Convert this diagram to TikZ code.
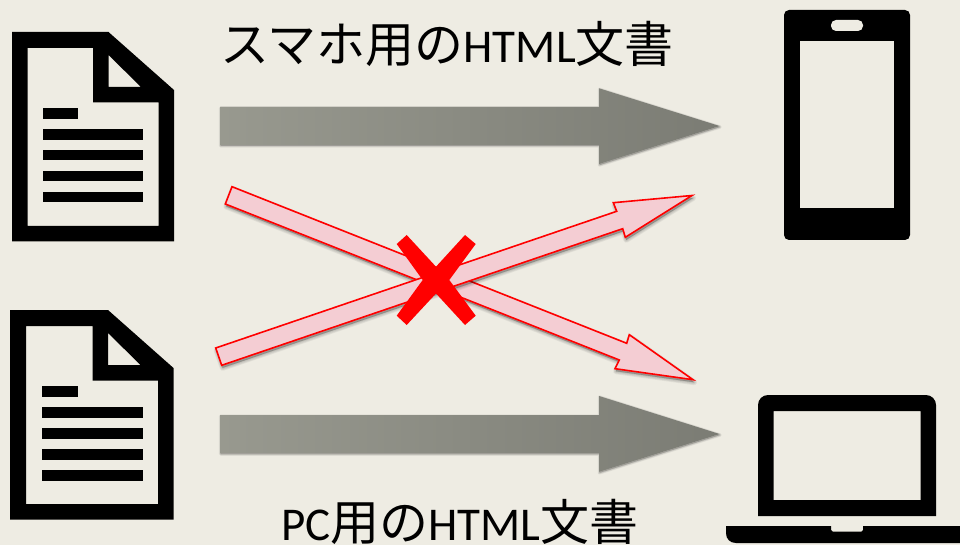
\documentclass[tikz,border=0pt]{standalone}
\usepackage{fontspec}
\setmainfont{Carlito}
\newfontfamily\cjk{Noto Sans CJK JP}
\definecolor{bgc}{HTML}{EEECE3}
\definecolor{pinkf}{HTML}{F4CDD3}
\definecolor{grayl}{HTML}{98998F}
\definecolor{grayr}{HTML}{7B7C74}
\tikzset{
  icon/.style={fill=black,draw=none,even odd rule},
  bigarrow/.style={left color=grayl,right color=grayr,draw=none},
  redarrow/.style={fill=pinkf,draw=red,line width=1.6pt,line join=miter},
  softedge/.style={fill=black,draw=black,line join=round,opacity=0.05,line width=#1},
  crossmark/.style={fill=red,draw=none},
  caption/.style={font=\fontsize{47}{47}\selectfont,inner sep=0pt,text=black,anchor=base}
}
\newcommand{\softshadow}[4]{%
  \foreach \wd in {#3}{\path[softedge=\wd pt,shift={(#1,#2)}] #4;}}
\newcommand{\cj}[1]{{\fontsize{49}{49}\selectfont\cjk #1}}
\newcommand{\docicon}[5]{%
  \begin{scope}[shift={(#1,#2)}]
    \path[icon] (#3,32) -- (108.5,32) -- (174,90) -- (174,241.5) -- (#3,241.5) -- cycle
      (#4,48) -- (93,48) -- (93,102.5) -- (158.5,102.5) -- (158.5,226) -- (#4,226) -- cycle
      (108.5,55) -- (141,87) -- (108.5,87) -- cycle;
    \fill[black] (#5,108) rectangle (78,119);
    \fill[black] (#5,129) rectangle (143,140);
    \fill[black] (#5,150) rectangle (143,160.5);
    \fill[black] (#5,171) rectangle (143,181.5);
    \fill[black] (#5,192) rectangle (143,202.5);
  \end{scope}}
\begin{document}
\begin{tikzpicture}[x=1pt,y=-1pt]
\useasboundingbox (0,0) rectangle (960,545);
\clip (0,0) rectangle (960,545);
\fill[bgc] (0,0) rectangle (960,545);
\docicon{0}{0}{12}{27.5}{43}
\docicon{-0.5}{278}{10.5}{26.5}{42.5}
% phone
\path[icon,rounded corners=5pt] (784,10) rectangle (910,240);
\fill[bgc] (800,41) rectangle (894,208.5);
\fill[bgc,rounded corners=5pt] (831,20) rectangle (863,31);
% laptop
\path[icon] [rounded corners=10pt] (758,516) [sharp corners] -- (758,450) [rounded corners=10pt] -- (758,395) -- (936,395) -- (936,450) [sharp corners] -- (936,516) -- cycle
  (773.5,411) rectangle (920.5,500);
\path[icon] (726,526) -- (831,526) -- (831,530) -- (832.5,531.5) -- (861.5,531.5) -- (863,530) -- (863,526) -- (960,526) -- (960,543) -- (736,543) .. controls (730,543) and (726,539) .. (726,533) -- cycle;
% grey arrows
\softshadow{0.5}{1}{3.5,2.5,1.5,0.5}{(220,107) -- (599,107) -- (599,88.3) -- (719.5,126) -- (599,164) -- (599,145) -- (220,145) -- cycle}
\path[bigarrow] (220,107) -- (599,107) -- (599,88.3) -- (719.5,126) -- (599,164) -- (599,145) -- (220,145) -- cycle;
\softshadow{0.5}{1}{3.5,2.5,1.5,0.5}{(220,415) -- (599,415) -- (599,396) -- (719.5,434) -- (599,471.8) -- (599,453) -- (220,453) -- cycle}
\path[bigarrow] (220,415) -- (599,415) -- (599,396) -- (719.5,434) -- (599,471.8) -- (599,453) -- (220,453) -- cycle;
% red arrows
\softshadow{1}{2.5}{6,4.5,3,1.5,0.5}{(232,186.7) -- (626.7,343.3) -- (629.3,334.7) -- (693,379.7) -- (615,368.7) -- (619.3,360) -- (225.3,204) -- cycle}
\path[redarrow] (232,186.7) -- (626.7,343.3) -- (629.3,334.7) -- (693,379.7) -- (615,368.7) -- (619.3,360) -- (225.3,204) -- cycle;
\softshadow{1}{2.5}{6,4.5,3,1.5,0.5}{(215.7,348) -- (616.7,211.3) -- (613.3,202.7) -- (692,195.5) -- (625.3,237.3) -- (622.7,228.7) -- (221.7,365.3) -- cycle}
\path[redarrow] (215.7,348) -- (616.7,211.3) -- (613.3,202.7) -- (692,195.5) -- (625.3,237.3) -- (622.7,228.7) -- (221.7,365.3) -- cycle;
% cross
\path[crossmark] (406.7,235) -- (436,266.7) -- (465,235) -- (475.7,244) -- (449.3,280) -- (475.7,315.7) -- (465,325) -- (436,293.5) -- (406.7,325) -- (396.7,315.7) -- (422.7,280) -- (396.7,244) -- cycle;
% captions
\node[caption] (topcap) at (447,62.5) {\cj{スマホ用の}HTML\cj{文書}};
\node[caption] (botcap) at (460,540) {PC\cj{用の}HTML\cj{文書}};
\end{tikzpicture}
\end{document}
